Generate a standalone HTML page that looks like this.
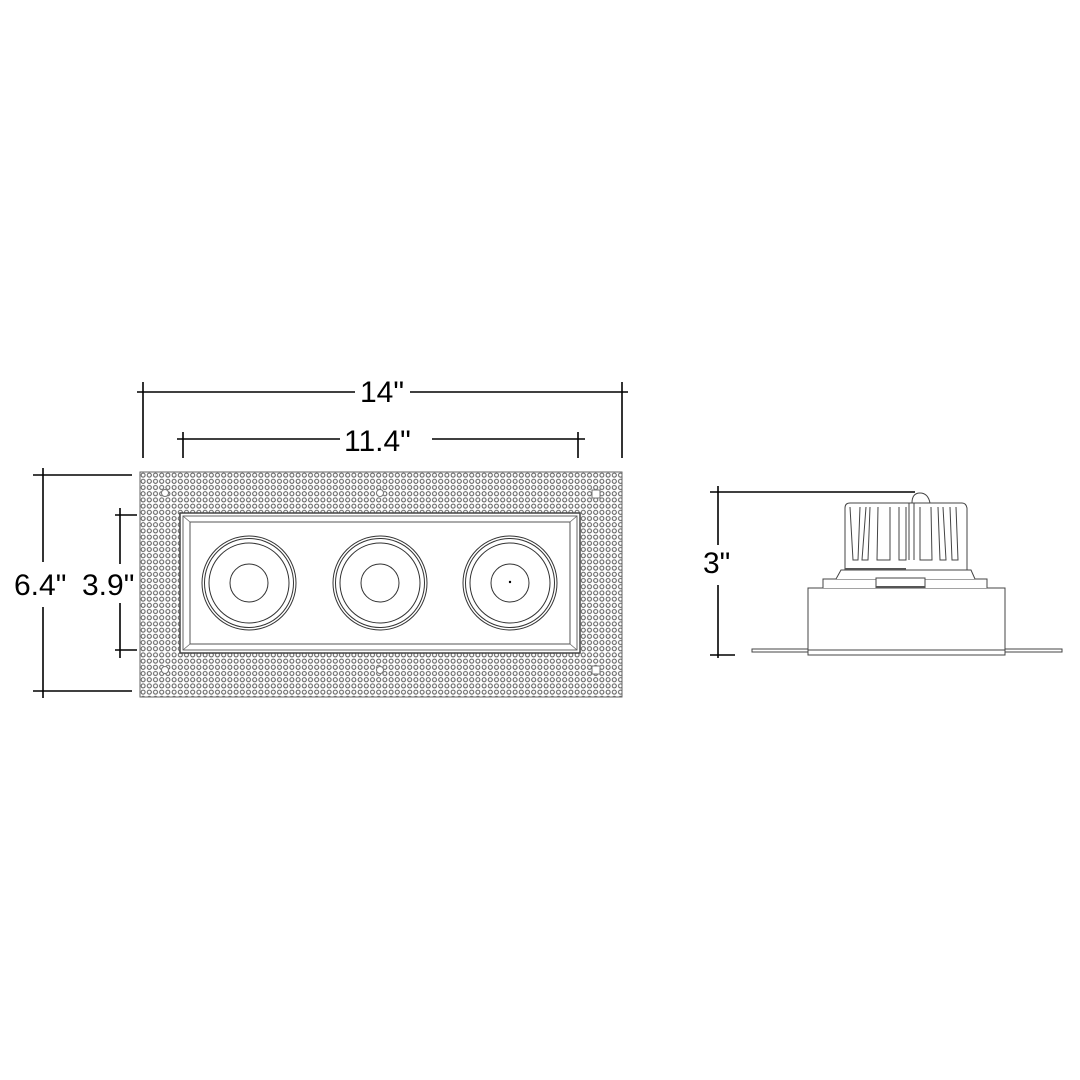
<!DOCTYPE html>
<html><head><style>
html,body{margin:0;padding:0;background:#fff;}
svg{display:block;}
text{font-family:"Liberation Sans",sans-serif;font-size:30px;fill:#000;}
</style></head><body>
<svg width="1080" height="1080" viewBox="0 0 1080 1080" xmlns="http://www.w3.org/2000/svg">
<defs>
<pattern id="dots" x="140" y="472" width="6.2" height="6.2" patternUnits="userSpaceOnUse">
<circle cx="3.1" cy="3.1" r="2" fill="none" stroke="#555" stroke-width="1"/>
</pattern>
</defs>
<g stroke="#000" stroke-width="1.6" fill="none">
<line x1="143" y1="382" x2="143" y2="458"/>
<line x1="137" y1="392" x2="355" y2="392"/>
<line x1="410" y1="392" x2="628" y2="392"/>
<line x1="622" y1="382" x2="622" y2="458"/>
<line x1="183" y1="432" x2="183" y2="458"/>
<line x1="177" y1="439" x2="340" y2="439"/>
<line x1="432" y1="439" x2="585" y2="439"/>
<line x1="578" y1="432" x2="578" y2="458"/>
<line x1="33" y1="475" x2="132" y2="475"/>
<line x1="43" y1="468" x2="43" y2="562"/>
<line x1="43" y1="607" x2="43" y2="698"/>
<line x1="33" y1="691" x2="132" y2="691"/>
<line x1="115" y1="515" x2="137" y2="515"/>
<line x1="120" y1="508" x2="120" y2="564"/>
<line x1="120" y1="603" x2="120" y2="658"/>
<line x1="115" y1="650" x2="137" y2="650"/>
<line x1="710" y1="492" x2="915" y2="492"/>
<line x1="718" y1="486" x2="718" y2="545"/>
<line x1="718" y1="585" x2="718" y2="658"/>
<line x1="710" y1="655" x2="735" y2="655"/>
</g>
<text x="14" y="595">6.4"</text>
<text x="82" y="595">3.9"</text>
<text x="360" y="402">14"</text>
<text x="344" y="451">11.4"</text>
<text x="703" y="573">3"</text>
<rect x="140" y="472" width="482" height="225" fill="url(#dots)" stroke="#666" stroke-width="1"/>
<g fill="#fff" stroke="#777" stroke-width="1">
<circle cx="165" cy="493" r="3.5"/><circle cx="380" cy="493" r="3.5"/><rect x="592" y="490" width="8" height="8"/>
<circle cx="165" cy="670" r="3.5"/><circle cx="380" cy="670" r="3.5"/><rect x="592" y="666" width="8" height="8"/>
</g>
<rect x="180" y="513" width="400" height="140" fill="#fff" stroke="#444" stroke-width="1.5"/>
<rect x="183" y="516" width="394" height="134" fill="none" stroke="#666" stroke-width="1"/>
<rect x="190" y="522" width="380" height="122" fill="none" stroke="#555" stroke-width="1"/>
<g stroke="#666" stroke-width="0.8">
<line x1="183" y1="516" x2="190" y2="522"/><line x1="577" y1="516" x2="570" y2="522"/>
<line x1="183" y1="650" x2="190" y2="644"/><line x1="577" y1="650" x2="570" y2="644"/>
</g>
<g fill="none" stroke="#333" stroke-width="1">
<circle cx="249" cy="583" r="47"/><circle cx="249" cy="583" r="44.5"/><circle cx="249" cy="583" r="40"/><circle cx="249" cy="583" r="19"/>
<circle cx="380" cy="583" r="47"/><circle cx="380" cy="583" r="44.5"/><circle cx="380" cy="583" r="40"/><circle cx="380" cy="583" r="19"/>
<circle cx="510" cy="583" r="47"/><circle cx="510" cy="583" r="44.5"/><circle cx="510" cy="583" r="40"/><circle cx="510" cy="583" r="19"/>
</g>
<circle cx="510" cy="582" r="1.2" fill="#000"/>
<g fill="#fff" stroke="#444" stroke-width="1">
<rect x="752" y="649" width="310" height="3"/>
<rect x="808" y="588" width="197" height="62"/>
<rect x="808" y="650" width="197" height="5"/>
<path d="M823 588 V579 H987 V588"/>
<path d="M836 579 L841 570 H971 L975 579"/>
<rect x="876" y="578" width="49" height="10"/>
<path d="M912 503 Q912 493 920 493 Q928 493 930 503"/>
<path d="M845 570 V508 Q845 503 850 503 H962 Q966 503 967 508 V570 Z"/>
</g>
<g fill="none" stroke="#444" stroke-width="1">
<path d="M850 507 L853 560 H858 L860 507"/>
<path d="M866 507 L862 560 H868 L870 507"/>
<path d="M878 507 L877 560 H890 L890 507"/>
<path d="M899 507 V560 H906 V507"/>
<path d="M909 503 V560 M914 503 V560"/>
<path d="M920 507 V560 H932 L931 507"/>
<path d="M938 507 L940 560 H946 L943 507"/>
<path d="M950 507 L952 560 H958 L956 507"/>
</g>
<line x1="845" y1="569" x2="906" y2="569" stroke="#555" stroke-width="2"/>
<line x1="876" y1="587" x2="925" y2="587" stroke="#555" stroke-width="2"/>
</svg>
</body></html>
